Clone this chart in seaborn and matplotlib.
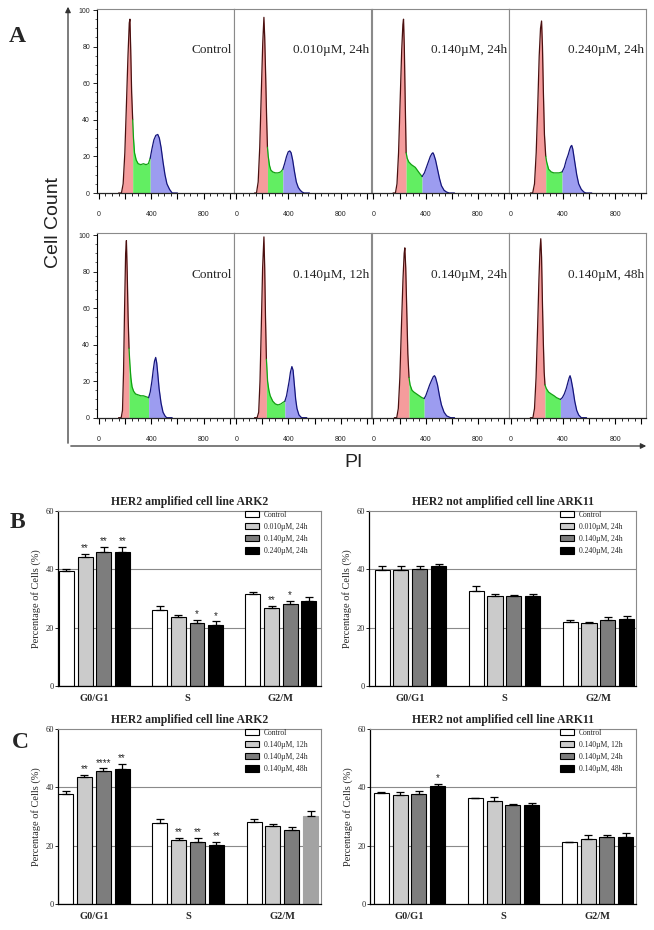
import numpy as np
import pandas as pd
import matplotlib
matplotlib.use("Agg")
import matplotlib.pyplot as plt
from matplotlib.patches import Patch, FancyArrowPatch
from matplotlib.ticker import MultipleLocator, FuncFormatter
import seaborn as sns

sns.set_theme(context="paper", style="ticks")
plt.rcParams["font.family"] = ["Liberation Serif", "DejaVu Serif"]
SANS = ["Liberation Sans", "DejaVu Sans"]

W, H = 654, 930

# ---------------- panel A: cell-cycle histograms (PI value, cell count) ----------------
top_labels = ["Control", "0.010µM, 24h", "0.140µM, 24h", "0.240µM, 24h"]
bot_labels = ["Control", "0.140µM, 12h", "0.140µM, 24h", "0.140µM, 48h"]

top_ctrl_pi = [150, 172, 185, 198, 210, 222, 232, 237, 243, 250, 258, 264, 272, 285, 300, 320, 340, 360,
               378, 392, 405, 420, 435, 450, 462, 475, 490, 505, 520, 540, 560, 600]
top_ctrl_n = [0, 0, 5, 22, 48, 75, 93, 95, 78, 55, 40, 30, 22, 18, 16, 15.5, 16, 15.5,
              16, 19, 24, 29, 31.5, 32, 30, 25, 17, 10, 5, 2, 0, 0]
top_ctrl_cut = [258, 392]

top_d010_pi = [140, 155, 168, 180, 192, 203, 212, 218, 226, 233, 239, 245, 255, 265, 280, 300, 320, 340,
               357, 370, 385, 398, 410, 420, 432, 445, 460, 475, 490, 505, 520, 560]
top_d010_n = [0, 0, 6, 25, 55, 82, 96, 85, 62, 40, 25, 20, 15, 12.5, 11.5, 11, 11, 11.5,
              13, 16, 20, 22.5, 23, 22, 18, 12, 6, 3, 1.5, 0.5, 0, 0]
top_d010_cut = [239, 357]

top_d140_pi = [150, 168, 180, 192, 204, 216, 225, 230, 236, 243, 250, 258, 270, 290, 320, 350, 372, 390,
               405, 420, 435, 447, 455, 462, 475, 490, 505, 520, 540, 560, 580, 620]
top_d140_n = [0, 0, 5, 22, 50, 78, 92, 95, 80, 50, 22, 19, 17, 15.5, 14, 11, 9, 11,
              14, 17, 20, 21.5, 22, 21, 18, 13, 8, 4, 1.5, 0.5, 0, 0]
top_d140_cut = [250, 372]

top_d240_pi = [150, 168, 182, 195, 207, 218, 228, 236, 243, 250, 258, 268, 275, 290, 310, 330, 350, 370,
               393, 410, 425, 440, 452, 460, 467, 475, 490, 505, 520, 540, 560, 575, 620]
top_d240_n = [0, 0, 5, 22, 48, 75, 90, 94, 80, 55, 32, 20, 17, 13, 11.5, 11, 11, 11,
              11.5, 14, 18, 21, 24, 25.5, 26, 24, 17, 10, 5, 2, 0.5, 0, 0]
top_d240_cut = [268, 393]

bot_ctrl_pi = [150, 170, 180, 188, 196, 204, 210, 216, 223, 230, 236, 244, 253, 265, 280, 300, 320, 340,
               360, 380, 392, 405, 415, 425, 434, 442, 450, 460, 475, 490, 505, 518, 560]
bot_ctrl_n = [0, 0, 4, 25, 60, 90, 97, 80, 55, 38, 30, 22, 17, 14.5, 13, 12.5, 12, 12,
              11.5, 11, 14, 20, 26, 31, 33, 30, 24, 16, 8, 3, 1, 0, 0]
bot_ctrl_cut = [230, 380]

bot_h12_pi = [140, 160, 172, 182, 192, 202, 212, 218, 224, 231, 240, 250, 260, 280, 300, 320, 340, 360,
              372, 385, 395, 405, 415, 426, 435, 445, 455, 465, 480, 500, 540]
bot_h12_n = [0, 0, 3, 20, 50, 82, 99, 82, 55, 32, 20, 15, 12, 9, 7.5, 7, 7.5, 8.5,
             9, 12, 16, 20, 25, 28, 26, 18, 10, 5, 1.5, 0, 0]
bot_h12_cut = [231, 372]

bot_h24_pi = [160, 178, 190, 202, 214, 226, 235, 240, 247, 255, 263, 272, 280, 295, 310, 330, 350, 370,
              388, 400, 415, 430, 445, 458, 467, 475, 490, 505, 520, 540, 560, 590, 620]
bot_h24_n = [0, 0, 5, 22, 50, 76, 90, 93, 82, 58, 35, 22, 18, 15, 14, 13, 12, 11,
             10.5, 12, 15, 18, 20.5, 22.5, 23, 22, 18, 12, 7, 3, 1, 0, 0]
bot_h24_cut = [272, 388]

bot_h48_pi = [150, 170, 182, 194, 206, 216, 224, 230, 236, 243, 250, 256, 262, 272, 290, 310, 332, 350,
              365, 380, 395, 410, 425, 440, 448, 454, 462, 475, 490, 505, 520, 540, 580]
bot_h48_n = [0, 0, 5, 22, 50, 76, 92, 98, 88, 62, 40, 25, 18, 16, 14, 13, 12, 11,
             10.5, 10, 11, 13, 16, 20, 22, 23, 21, 16, 9, 4, 1.5, 0, 0]
bot_h48_cut = [262, 380]

# ---------------- panels B/C: percentage of cells per phase ----------------
phases = ["G0/G1", "S", "G2/M"]
b_doses = ["Control", "0.010µM, 24h", "0.140µM, 24h", "0.240µM, 24h"]
c_doses = ["Control", "0.140µM, 12h", "0.140µM, 24h", "0.140µM, 48h"]

b_ark2_mean = [[39.3, 26.0, 31.4], [44.4, 23.6, 26.9], [46.0, 21.5, 28.1], [46.0, 21.0, 29.1]]
b_ark2_err = [[0.7, 1.5, 0.9], [0.9, 0.8, 0.5], [1.7, 1.2, 1.0], [1.7, 1.2, 1.5]]
b_ark2_sig = [["", "", ""], ["**", "", "**"], ["**", "*", "*"], ["**", "*", ""]]

b_ark11_mean = [[39.9, 32.6, 22.0], [39.9, 30.7, 21.7], [40.2, 31.0, 22.6], [41.1, 31.0, 23.1]]
b_ark11_err = [[1.1, 1.6, 0.5], [1.35, 0.9, 0.3], [0.8, 0.1, 1.0], [0.9, 0.5, 0.9]]
b_ark11_sig = [["", "", ""], ["", "", ""], ["", "", ""], ["", "", ""]]

c_ark2_mean = [[37.8, 27.7, 28.2], [43.5, 22.0, 26.7], [45.7, 21.4, 25.5], [46.3, 20.3, 30.2]]
c_ark2_err = [[0.9, 1.3, 0.8], [0.8, 0.8, 0.8], [0.8, 1.2, 0.9], [1.7, 1.1, 1.8]]
c_ark2_sig = [["", "", ""], ["**", "**", ""], ["****", "**", ""], ["**", "**", ""]]

c_ark11_mean = [[38.1, 36.3, 21.1], [37.5, 35.4, 22.3], [37.7, 33.8, 23.1], [40.6, 33.8, 22.9]]
c_ark11_err = [[0.2, 0.2, 0.3], [1.0, 1.3, 1.4], [1.2, 0.4, 0.7], [0.7, 0.8, 1.6]]
c_ark11_sig = [["", "", ""], ["", "", ""], ["", "", ""], ["*", "", ""]]

RED, GREEN, BLUE = "#f59c9c", "#62ee62", "#9c9cf0"
RED_L, GREEN_L, BLUE_L = "#4a1010", "#12a012", "#14147a"
BAR_COLORS = ["#ffffff", "#cbcbcb", "#7d7d7d", "#000000"]
FRAME = "#8a8a8a"

fig = plt.figure(figsize=(W / 100, H / 100), dpi=100)


def histo(ax, pi, n, cut, label, first):
    pi = np.asarray(pi, float)
    n = np.asarray(n, float)
    regions = ((pi <= cut[0], RED, RED_L),
               ((pi >= cut[0]) & (pi <= cut[1]), GREEN, GREEN_L),
               (pi >= cut[1], BLUE, BLUE_L))
    for m, fc, lc in regions:
        ax.fill_between(pi[m], n[m], color=fc, lw=0, zorder=1)
        sns.lineplot(x=pi[m], y=n[m], ax=ax, color=lc, lw=0.9, estimator=None, sort=False, zorder=2)
    ax.text(0.985, 78, label, transform=ax.get_yaxis_transform(), ha="right", va="center", fontsize=9.5)
    ax.set_xlim(-15, 1035)
    ax.xaxis.set_major_locator(MultipleLocator(200))
    ax.xaxis.set_minor_locator(MultipleLocator(50))
    ax.xaxis.set_major_formatter(FuncFormatter(lambda v, p: f"{v:.0f}" if v in (0, 400, 800) else ""))
    ax.tick_params(axis="x", which="major", length=4, width=0.8, pad=9, labelsize=5, color="black")
    ax.tick_params(axis="x", which="minor", length=2, width=0.6, color="black")
    for t in ax.get_xticklabels():
        t.set_fontfamily(SANS)
    for s in ("top", "right", "left"):
        ax.spines[s].set_color(FRAME)
        ax.spines[s].set_linewidth(0.8)
    ax.spines["bottom"].set_linewidth(0.9)
    if first:
        ax.spines["left"].set_color("black")
        ax.set_yticks([0, 20, 40, 60, 80, 100])
        ax.yaxis.set_minor_locator(MultipleLocator(5))
        ax.tick_params(axis="y", which="major", length=3, width=0.7, pad=2, labelsize=5)
        ax.tick_params(axis="y", which="minor", length=1.5, width=0.5)
        for t in ax.get_yticklabels():
            t.set_fontfamily(SANS)
    else:
        ax.set_yticks([])
        ax.tick_params(axis="y", which="both", left=False)
    ax.set_xlabel("")
    ax.set_ylabel("")


top_panels = [(top_ctrl_pi, top_ctrl_n, top_ctrl_cut), (top_d010_pi, top_d010_n, top_d010_cut),
              (top_d140_pi, top_d140_n, top_d140_cut), (top_d240_pi, top_d240_n, top_d240_cut)]
bot_panels = [(bot_ctrl_pi, bot_ctrl_n, bot_ctrl_cut), (bot_h12_pi, bot_h12_n, bot_h12_cut),
              (bot_h24_pi, bot_h24_n, bot_h24_cut), (bot_h48_pi, bot_h48_n, bot_h48_cut)]

for panels, labels, y0, y1, ytop in ((top_panels, top_labels, 9.3, 193, 100.4),
                                      (bot_panels, bot_labels, 232.7, 417.7, 101.3)):
    for i, (pi, n, cut) in enumerate(panels):
        ax = fig.add_axes([(97 + i * 137.25) / W, 1 - y1 / H, 137.25 / W, (y1 - y0) / H])
        ax.set_ylim(0, ytop)
        histo(ax, pi, n, cut, labels[i], i == 0)

# outer axis arrows of panel A
for end in ((68, 4), (649, 446)):
    fig.add_artist(FancyArrowPatch((68 / W, 1 - 446 / H), (end[0] / W, 1 - end[1] / H),
                                   transform=fig.transFigure, arrowstyle="-|>", mutation_scale=8,
                                   lw=0.9, color="#333333"))
fig.text(53 / W, 1 - 223 / H, "Cell Count", rotation=90, ha="center", va="center",
         fontsize=14, family=SANS, color="#222222")
fig.text(354 / W, 1 - 462 / H, "PI", ha="center", va="center", fontsize=14, family=SANS, color="#222222")


def bars(ax, means, errs, sig, doses, title, xlim, odd=None):
    df = pd.DataFrame({"phase": np.tile(phases, len(doses)),
                       "dose": np.repeat(doses, len(phases)),
                       "pct": np.ravel(means)})
    ax.axhline(20, color=FRAME, lw=0.8, zorder=0)
    ax.axhline(40, color=FRAME, lw=0.8, zorder=0)
    sns.barplot(df, x="phase", y="pct", hue="dose", order=phases, hue_order=doses,
                palette=dict(zip(doses, BAR_COLORS)), saturation=1, edgecolor="black",
                linewidth=0.8, width=0.8, gap=0.2, errorbar=None, legend=False, ax=ax, zorder=2)
    bar_sets = list(ax.containers)
    for k, cont in enumerate(bar_sets):
        xs = [p.get_x() + p.get_width() / 2 for p in cont]
        ax.errorbar(xs, means[k], yerr=[np.zeros(len(xs)), errs[k]], fmt="none", ecolor="black",
                    elinewidth=0.9, capsize=3, capthick=0.9, zorder=3)
        for x, m, e, s in zip(xs, means[k], errs[k], sig[k]):
            if s:
                ax.text(x, m + e + 0.2, s, ha="center", va="bottom", fontsize=7, family=SANS)
    if odd is not None:
        p = bar_sets[odd[0]][odd[1]]
        p.set_facecolor("#a3a3a3")
        p.set_edgecolor("#a3a3a3")
    ax.set_xlim(*xlim)
    ax.set_ylim(0, 60)
    ax.set_yticks([0, 20, 40, 60])
    ax.tick_params(axis="y", length=2, width=0.7, pad=1, labelsize=6)
    ax.tick_params(axis="x", length=0, pad=6, labelsize=7.5)
    for t in ax.get_xticklabels():
        t.set_fontweight("bold")
    ax.set_xlabel("")
    ax.set_ylabel("Percentage of Cells (%)", fontsize=7.5, labelpad=3)
    ax.set_title(title, fontsize=8.5, fontweight="bold", pad=4)
    for s in ("top", "right"):
        ax.spines[s].set_visible(True)
        ax.spines[s].set_color(FRAME)
        ax.spines[s].set_linewidth(0.8)
    for s in ("left", "bottom"):
        ax.spines[s].set_color("black")
        ax.spines[s].set_linewidth(0.9)
    handles = [Patch(facecolor=c, edgecolor="black", lw=0.8) for c in BAR_COLORS]
    ax.legend(handles, doses, loc="upper right", bbox_to_anchor=(0.96, 1.02), frameon=False,
              fontsize=5.5, handlelength=1.8, handleheight=0.9, labelspacing=0.55,
              handletextpad=0.6, borderaxespad=0)


ax = fig.add_axes([58 / W, 1 - 686 / H, 263 / W, 175 / H])
bars(ax, b_ark2_mean, b_ark2_err, b_ark2_sig, b_doses, "HER2 amplified cell line ARK2", (-0.39, 2.43))
ax = fig.add_axes([369 / W, 1 - 686 / H, 267 / W, 175 / H])
bars(ax, b_ark11_mean, b_ark11_err, b_ark11_sig, b_doses, "HER2 not amplified cell line ARK11", (-0.44, 2.40))
ax = fig.add_axes([58 / W, 1 - 904 / H, 263 / W, 175 / H])
bars(ax, c_ark2_mean, c_ark2_err, c_ark2_sig, c_doses, "HER2 amplified cell line ARK2", (-0.38, 2.41),
     odd=(3, 2))
ax = fig.add_axes([370 / W, 1 - 904 / H, 266 / W, 175 / H])
bars(ax, c_ark11_mean, c_ark11_err, c_ark11_sig, c_doses, "HER2 not amplified cell line ARK11", (-0.42, 2.41))

for letter, x, y in (("A", 17, 36), ("B", 17, 523), ("C", 20, 742)):
    fig.text(x / W, 1 - y / H, letter, fontsize=17, fontweight="bold", ha="center", va="center")

fig.savefig("out.png", dpi=100)
